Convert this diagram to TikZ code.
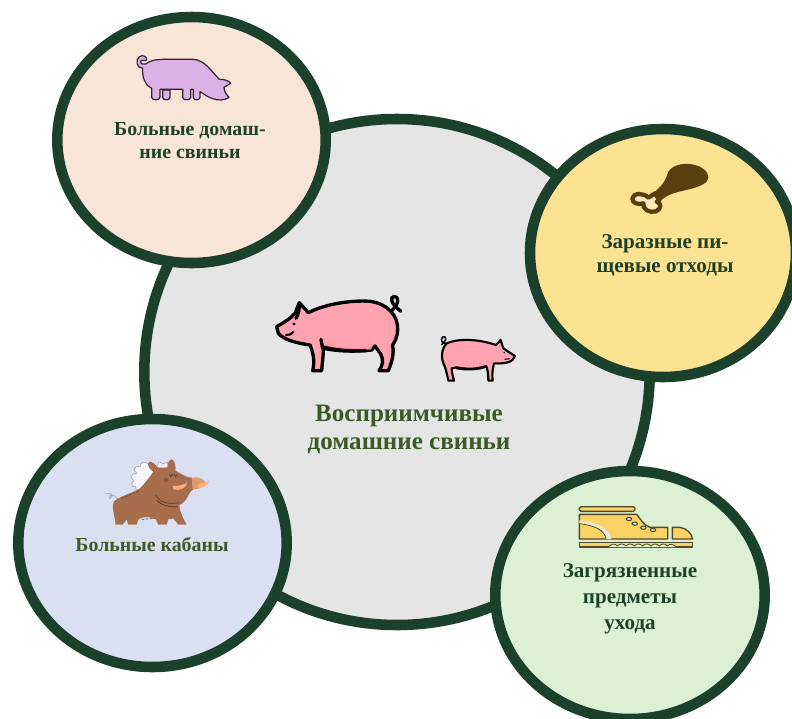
\documentclass[tikz,border=0pt]{standalone}
\usepackage{fontspec}
\setmainfont{Liberation Serif}
\definecolor{ring}{HTML}{1B402C}
\definecolor{txtA}{HTML}{1E4228}
\definecolor{txtB}{HTML}{3A5A26}
\definecolor{pigpink}{HTML}{FFA3B1}
\definecolor{pigdeep}{HTML}{FF8F9C}
\definecolor{lilac}{HTML}{DDB0E8}
\definecolor{meat}{HTML}{5A3F0E}
\definecolor{bonecol}{HTML}{FEE9B8}
\definecolor{boar}{HTML}{A86D4C}
\definecolor{tusk}{HTML}{F7AE7C}
\definecolor{snout}{HTML}{DE9A6C}
\definecolor{boarline}{HTML}{5E3A28}
\definecolor{shoe}{HTML}{FBD264}
\definecolor{shoeline}{HTML}{4F4A2C}
\definecolor{cream}{HTML}{E8EBCB}
\tikzset{
  bubble/.style={draw=ring,line width=7.9pt},
  lab/.style={align=center,font=\fontsize{15.8pt}{18.2pt}\selectfont\bfseries,text=txtA,inner sep=0pt},
  labbig/.style={align=center,font=\fontsize{18.8pt}{21pt}\selectfont\bfseries,text=txtB,inner sep=0pt},
  pigline/.style={draw=black,line width=2.5pt,line join=round,line cap=round},
  smallpig/.style={draw=black,line width=1.6pt,line join=round,line cap=round},
  hair/.style={draw=gray!70,line width=.45pt,fill=white,fill opacity=.7},
}
\begin{document}
\begin{tikzpicture}[x=0.75pt,y=-0.75pt]
\useasboundingbox (0,0) rectangle (792,718);
\clip (0,0) rectangle (792,718);
\fill[white] (0,0) rectangle (792,718);
% central
\draw[bubble,fill=black!10!white] (397,372) ellipse [x radius=252.7,y radius=253];
% satellites
\draw[bubble,fill={rgb,255:red,249;green,229;blue,215}] (191.5,140) ellipse [x radius=134.2,y radius=123];
\draw[bubble,fill={rgb,255:red,253;green,226;blue,146}] (663,253) ellipse [x radius=133,y radius=124];
\draw[bubble,fill={rgb,255:red,218;green,224;blue,241}] (152.5,543) ellipse [x radius=134.2,y radius=124];
\draw[bubble,fill={rgb,255:red,220;green,240;blue,212}] (630,595) ellipse [x radius=134.7,y radius=124];

% big pig
\begin{scope}[shift={(260,280)},scale=1/3]
\draw[pigline,fill=pigpink] (50,140) .. controls (70,128) and (90,118) .. (105,100) -- (118,68) -- (145,98)
  .. controls (200,70) and (280,60) .. (330,64) .. controls (380,70) and (415,105) .. (413,150)
  .. controls (412,170) and (405,185) .. (398,195) .. controls (403,225) and (394,250) .. (385,272)
  -- (357,272) .. controls (368,258) and (372,240) .. (362,222) -- (345,198) -- (335,210)
  .. controls (290,215) and (240,215) .. (190,205) .. controls (190,230) and (186,255) .. (185,272)
  -- (158,272) .. controls (165,245) and (160,220) .. (150,195)
  .. controls (115,190) and (70,180) .. (55,160) -- cycle;
\fill[pigdeep] (192,190) .. controls (240,208) and (290,205) .. (335,200) -- (335,208) .. controls (290,213) and (240,212) .. (192,203) -- cycle;
\draw[pigline] (192,202) .. controls (240,213) and (280,213) .. (318,212);
\draw[pigline] (183,178) -- (188,205);
\draw[pigline] (118,72) .. controls (118,90) and (115,105) .. (108,115);
\draw[pigline] (395,92) .. controls (415,75) and (420,50) .. (403,49) .. controls (388,50) and (392,72) .. (423,94);
\fill (102,132) circle [radius=5];
\draw[pigline,line width=1.6pt] (78,165) .. controls (88,166) and (95,162) .. (100,156);
\end{scope}

% small pig
\begin{scope}[shift={(260,280)},scale=1/3]
\draw[smallpig,fill=pigpink] (560,190) .. controls (590,176) and (650,175) .. (708,195) -- (722,180) -- (730,205)
  .. controls (745,215) and (755,222) .. (765,228) .. controls (760,245) and (740,252) .. (702,250)
  .. controls (697,270) and (696,285) .. (698,302) -- (685,302) .. controls (685,285) and (683,265) .. (678,258)
  .. controls (650,268) and (620,268) .. (590,262) -- (575,265) .. controls (575,280) and (580,292) .. (582,302)
  -- (565,302) .. controls (562,285) and (558,272) .. (555,260) .. controls (540,235) and (545,205) .. (560,190) -- cycle;
\draw[smallpig] (590,265) .. controls (620,270) and (650,270) .. (678,260);
\draw[smallpig,line width=1.1pt] (560,190) .. controls (546,192) and (540,180) .. (548,171) .. controls (556,166) and (562,178) .. (552,186) -- (545,194);
\fill (733,218) circle [radius=2.6];
\draw[smallpig,line width=.8pt] (735,238) -- (748,236);
\end{scope}

% lilac pig
\begin{scope}[shift={(100,40)},scale=1/3]
\draw[fill=lilac,draw=black!80!lilac,line width=.9pt,line join=round]
  (128,85) .. controls (110,85) and (105,60) .. (118,50) .. controls (128,43) and (142,50) .. (140,60)
  .. controls (135,66) and (128,55) .. (122,64) .. controls (120,72) and (130,74) .. (137,72)
  .. controls (150,60) and (175,58) .. (190,58) -- (280,58) .. controls (315,60) and (335,95) .. (358,118)
  .. controls (370,118) and (385,120) .. (392,130) -- (372,142) .. controls (372,155) and (380,165) .. (387,172)
  .. controls (375,182) and (352,182) .. (335,175) .. controls (320,170) and (310,160) .. (300,155)
  -- (300,172) .. controls (300,182) and (280,182) .. (280,172) -- (280,148) -- (272,148) -- (272,172)
  .. controls (272,182) and (248,182) .. (248,172) -- (248,148) -- (180,148) -- (180,172)
  .. controls (180,182) and (155,182) .. (155,172) -- (155,145)
  .. controls (140,140) and (125,115) .. (128,85) -- cycle;
\draw[fill=lilac,draw=black!80!lilac,line width=.9pt,line join=round] (188,150) -- (188,172) .. controls (188,182) and (210,182) .. (210,172) -- (210,150) -- cycle;
\end{scope}

% drumstick
\begin{scope}[shift={(620,150)},scale=1/3]
\fill[meat] (100,128) .. controls (125,110) and (135,95) .. (145,65) .. controls (160,42) and (200,35) .. (235,48)
  .. controls (262,60) and (272,80) .. (260,95) .. controls (240,115) and (190,120) .. (160,130)
  .. controls (145,135) and (128,145) .. (118,155) -- cycle;
\draw[meat,fill=bonecol,line width=3.2pt,line join=round] (105,130) -- (85,143) .. controls (72,128) and (40,128) .. (37,145)
  .. controls (36,160) and (55,165) .. (70,160) .. controls (66,178) and (90,190) .. (108,184)
  .. controls (125,176) and (125,160) .. (110,155) -- (118,150) -- cycle;
\end{scope}

% boar
\begin{scope}[shift={(90,450)},scale=1/3]
\draw[hair] (170,115) .. controls (150,120) and (130,125) .. (138,110) .. controls (125,112) and (120,100) .. (132,92)
  .. controls (118,85) and (125,68) .. (140,70) .. controls (126,58) and (135,45) .. (152,50)
  .. controls (148,38) and (162,33) .. (178,42) -- (195,70) -- cycle;
\draw[hair] (200,52) -- (207,35) -- (220,42) -- (232,36) -- (234,55) -- cycle;
\draw[gray!70,line width=.45pt] (46,132) -- (60,130) .. controls (72,134) and (62,148) .. (57,140) .. controls (58,130) and (78,135) .. (84,148);
\fill[gray!60] (60,144) circle [radius=4];
\fill[boar] (76,224) .. controls (78,205) and (62,175) .. (72,155) .. controls (85,140) and (130,128) .. (150,115)
  .. controls (165,100) and (180,80) .. (190,65) .. controls (175,55) and (170,42) .. (178,35)
  .. controls (193,35) and (200,50) .. (205,55) -- (233,52) .. controls (232,40) and (238,28) .. (246,28)
  .. controls (256,35) and (258,50) .. (256,62) .. controls (280,75) and (295,85) .. (305,82)
  -- (310,118) .. controls (305,125) and (298,125) .. (298,130) .. controls (290,150) and (280,160) .. (268,165)
  .. controls (270,190) and (280,205) .. (290,224)
  -- (265,224) -- (250,205) -- (235,208) -- (230,224) -- (205,224) -- (198,208) .. controls (180,200) and (160,198) .. (145,208)
  -- (140,224) -- (115,224) -- (110,208) -- (98,224) -- cycle;
\fill[snout] (305,84) .. controls (320,78) and (340,85) .. (345,95) .. controls (342,112) and (325,120) .. (308,118) -- cycle;
\fill[tusk] (248,108) .. controls (268,108) and (285,105) .. (292,95) .. controls (292,112) and (270,125) .. (250,118) -- cycle;
\fill[tusk] (330,100) .. controls (340,100) and (350,97) .. (358,93) .. controls (350,108) and (335,116) .. (322,112) -- cycle;
\fill[boar!80!black] (228,90) circle [radius=7];
\draw[boarline,line width=.55pt] (198,135) .. controls (205,155) and (235,165) .. (270,158);
\draw[boarline,line width=.55pt] (200,150) .. controls (210,165) and (240,172) .. (262,170);
\draw[boarline,line width=.5pt] (238,72) -- (243,80) -- (248,72) (252,72) -- (257,80) -- (262,72);
\draw[boarline,line width=.5pt,dash pattern=on 2pt off 1pt] (95,145) -- (148,122) (155,208) -- (195,205);
\end{scope}

% shoe
\begin{scope}[shift={(480,450)},scale=1/3]
\tikzset{shoeedge/.style={draw=shoeline,line width=1pt,fill=shoe,line join=round}}
\draw[shoeedge,rounded corners=1.2pt] (298,170) rectangle (465,184);
\draw[shoeedge] (298,193) -- (470,193) .. controls (480,205) and (490,225) .. (510,232) -- (563,232) -- (563,267) -- (298,267) -- cycle;
\fill[cream] (298,211) .. controls (350,215) and (390,235) .. (394,267) -- (378,267) .. controls (375,240) and (340,225) .. (298,221) -- cycle;
\draw[draw=shoeline,line width=.6pt] (298,221) .. controls (340,225) and (375,240) .. (378,267);
\draw[shoeedge] (577,232) -- (600,232) .. controls (620,235) and (635,250) .. (638,267) -- (577,267) -- cycle;
\draw[shoeedge] (298,278) -- (638,278) -- (638,291) -- (298,291) -- cycle;
\draw[draw=shoeline,line width=.6pt,fill={rgb,255:red,220;green,240;blue,212}] (385,291) .. controls (395,280) and (405,280) .. (412,288) .. controls (420,280) and (430,280) .. (438,288)
  .. controls (445,280) and (455,280) .. (463,288) .. controls (470,280) and (480,280) .. (488,288)
  .. controls (495,280) and (505,280) .. (513,288) .. controls (520,280) and (530,280) .. (538,288)
  .. controls (545,280) and (555,280) .. (562,288) .. controls (570,280) and (580,282) .. (588,291);
\foreach \ex/\ey in {447/207,464/221,490/233,519/240}
  \draw[draw=shoeline,line width=.8pt,fill=cream] (\ex,\ey) ellipse [x radius=8,y radius=5];
\end{scope}

% labels
\node[labbig] (central) at (409,429) {Восприимчивые\\домашние свиньи};
\node[lab,font=\fontsize{14.9pt}{17.8pt}\selectfont\bfseries] (sick) at (190,140.5) {Больные домаш-\\ние свиньи};
\node[lab] (waste) at (665,255.5) {Заразные пи-\\щевые отходы};
\node[lab,font=\fontsize{14.9pt}{17.4pt}\selectfont\bfseries,text=txtB] (boars) at (152,544.5) {Больные кабаны};
\node[lab,font=\fontsize{15.8pt}{19.4pt}\selectfont\bfseries] (items) at (630,599) {Загрязненные\\предметы\\ухода};
\end{tikzpicture}
\end{document}
